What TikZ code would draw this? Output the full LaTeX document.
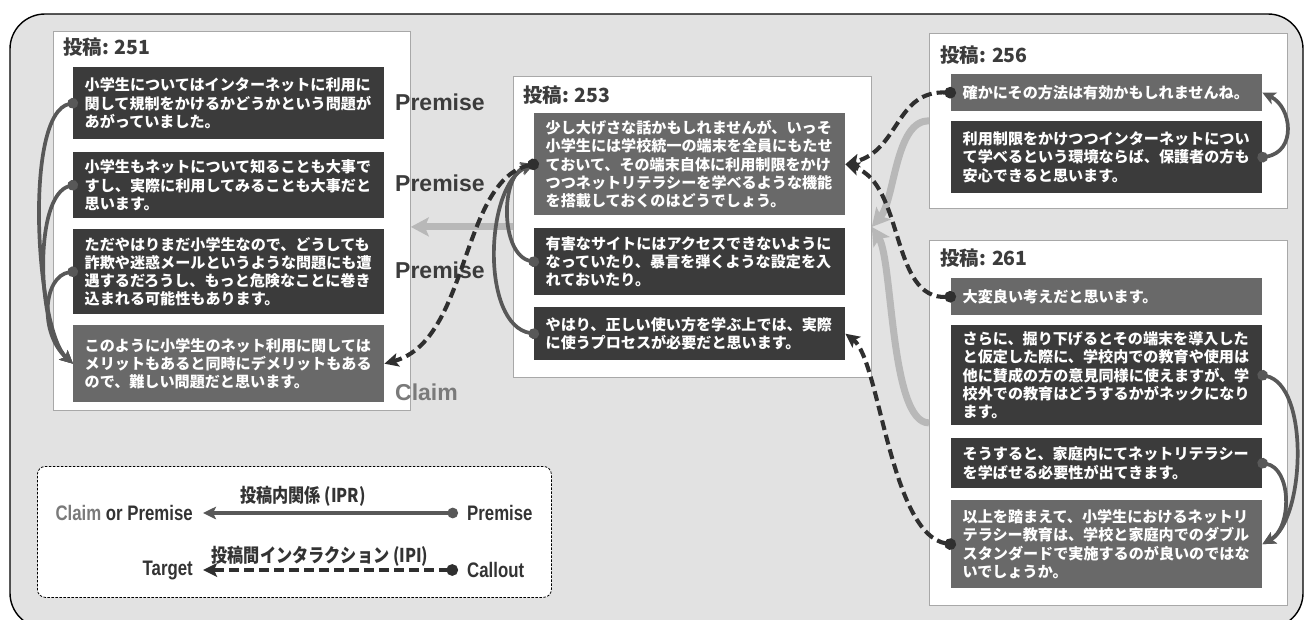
\documentclass[tikz,border=0pt]{standalone}
\usepackage{fontspec}
\usetikzlibrary{arrows.meta}
\setmainfont{Liberation Sans}
\newfontfamily\jp{Noto Sans CJK JP}
\newfontfamily\jpn[FakeStretch=0.85]{Noto Sans CJK JP}
\newfontfamily\lsn[FakeStretch=0.8]{Liberation Sans}
\definecolor{bgc}{HTML}{E2E2E2}
\definecolor{postborder}{HTML}{A8A8A8}
\definecolor{segdark}{HTML}{3B3B3B}
\definecolor{seglight}{HTML}{696969}
\definecolor{iprc}{HTML}{585858}
\definecolor{ipic}{HTML}{2F2F2F}
\definecolor{bigc}{HTML}{B8B8B8}
\definecolor{ttlc}{HTML}{3C3C3C}
\definecolor{claimc}{HTML}{7A7A7A}
\definecolor{lgc}{HTML}{333333}
\tikzset{
  post/.style={draw=postborder, fill=white, line width=0.8pt, anchor=north west, inner sep=0pt},
  seg/.style={fill=segdark, text=white, anchor=north west, text width=288pt, inner xsep=11.5pt, inner ysep=0pt, align=left, font=\jp\bfseries\fontsize{15.1}{18.3}\selectfont, minimum width=311pt},
  segc/.style={seg, fill=seglight},
  ttl/.style={anchor=west, text=ttlc, font=\jp\bfseries\fontsize{19.5}{21}\selectfont, inner sep=0pt},
  role/.style={anchor=west, text=ttlc, font=\bfseries\fontsize{23}{25}\selectfont, inner sep=0pt},
  ipr/.style={draw=iprc, line width=3.7pt, shorten <=-5pt, {Circle[length=10.5pt]}-{Stealth[length=13pt,width=12.5pt,inset=3pt]}},
  ipi/.style={draw=ipic, line width=4.1pt, dash pattern=on 10pt off 5pt, shorten <=-5pt, {Circle[length=11.5pt]}-{Stealth[length=14pt,width=13.5pt,inset=3pt]}},
  big/.style={draw=bigc, line width=7pt, -{Stealth[length=18pt,width=19pt,inset=4pt]}},
  lg/.style={text=lgc, font=\lsn\bfseries\fontsize{21}{23}\selectfont, inner sep=0pt},
  lgj/.style={text=lgc, font=\jpn\bfseries\fontsize{19}{21}\selectfont, inner sep=0pt},
}
\begin{document}
\begin{tikzpicture}[x=1pt,y=-1pt]
\useasboundingbox (0,0) rectangle (1304,619);
\clip (0,0) rectangle (1304,619);
\fill[white] (0,0) rectangle (1304,619);
\draw[fill=bgc, line width=1.4pt, rounded corners=35pt] (10,14) rectangle (1303,628);

% post boxes
\node[post, minimum width=357pt, minimum height=379pt] (p251) at (53,31) {};
\node[post, minimum width=358pt, minimum height=301pt] (p253) at (513,76) {};
\node[post, minimum width=358pt, minimum height=175pt] (p256) at (929,33) {};
\node[post, minimum width=358pt, minimum height=365pt] (p261) at (929,240) {};

% titles
\node[ttl] (t251) at (63,47) {投稿: 251};
\node[ttl] (t253) at (523,95) {投稿: 253};
\node[ttl] (t256) at (940,55) {投稿: 256};
\node[ttl] (t261) at (940,258) {投稿: 261};

% 251 segments
\node[seg, minimum height=72pt] (a1) at (73,67) {小学生についてはインターネットに利用に\\関して規制をかけるかどうかという問題が\\あがっていました。};
\node[seg, minimum height=66pt] (a2) at (73,152) {小学生もネットについて知ることも大事で\\すし、実際に利用してみることも大事だと\\思います。};
\node[seg, minimum height=85pt] (a3) at (73,229) {ただやはりまだ小学生なので、どうしても\\詐欺や迷惑メールというような問題にも遭\\遇するだろうし、もっと危険なことに巻き\\込まれる可能性もあります。};
\node[segc, minimum height=77pt] (a4) at (73,325) {このように小学生のネット利用に関しては\\メリットもあると同時にデメリットもある\\ので、難しい問題だと思います。};

% 253 segments
\node[segc, minimum height=102pt] (b1) at (534,113) {少し大げさな話かもしれませんが、いっそ\\小学生には学校統一の端末を全員にもたせ\\ておいて、その端末自体に利用制限をかけ\\つつネットリテラシーを学べるような機能\\を搭載しておくのはどうでしょう。};
\node[seg, minimum height=67pt] (b2) at (534,228) {有害なサイトにはアクセスできないように\\なっていたり、暴言を弾くような設定を入\\れておいたり。};
\node[seg, minimum height=53pt] (b3) at (534,307) {やはり、正しい使い方を学ぶ上では、実際\\に使うプロセスが必要だと思います。};

% 256 segments
\node[segc, minimum height=37pt] (c1) at (951,74) {確かにその方法は有効かもしれませんね。};
\node[seg, minimum height=72pt] (c2) at (951,121) {利用制限をかけつつインターネットについ\\て学べるという環境ならば、保護者の方も\\安心できると思います。};

% 261 segments
\node[segc, minimum height=37pt] (d1) at (951,278) {大変良い考えだと思います。};
\node[seg, minimum height=100pt] (d2) at (951,325) {さらに、掘り下げるとその端末を導入した\\と仮定した際に、学校内での教育や使用は\\他に賛成の方の意見同様に使えますが、学\\校外での教育はどうするかがネックになり\\ます。};
\node[seg, minimum height=50pt] (d3) at (951,438) {そうすると、家庭内にてネットリテラシー\\を学ばせる必要性が出てきます。};
\node[segc, minimum height=88pt] (d4) at (951,500) {以上を踏まえて、小学生におけるネットリ\\テラシー教育は、学校と家庭内でのダブル\\スタンダードで実施するのが良いのではな\\いでしょうか。};

% role labels
\node[role] (r1) at (395,102) {Premise};
\node[role] (r2) at (395,183) {Premise};
\node[role] (r3) at (395,270) {Premise};
\node[role, text=claimc] (r4) at (395,392) {Claim};

% big light gray arrows (post-level)
\draw[big] (p253.west) -- (p253.west -| p251.east);
\draw[big] (p256.west) .. controls (895,120) and (895,200) .. (p253.east);
\draw[big] (p261.west) .. controls (890,423) and (893,260) .. (p253.east);

% IPR within posts
\draw[ipr] (a1.west) .. controls (23,113) and (36,330) .. (a4.west);
\draw[ipr] (a2.west) .. controls (33,195) and (37,331) .. (a4.west);
\draw[ipr] (a3.west) .. controls (43,276) and (39,333) .. (a4.west);
\draw[ipr] (b2.west) .. controls (500,255) and (500,175) .. (b1.west);
\draw[ipr] (b3.west) .. controls (480,325) and (485,185) .. (b1.west);
\draw[ipr] (c2.east) .. controls (1297,152) and (1292,107) .. (c1.east);
\draw[ipr] (d2.east) .. controls (1310,385) and (1305,520) .. (d4.east);
\draw[ipr] (d3.east) .. controls (1292,468) and (1292,528) .. (d4.east);

% IPI between posts
\draw[ipi] (b1.west) .. controls (460,180) and (470,340) .. (a4.east);
\draw[ipi] (c1.west) .. controls (895,90) and (900,150) .. (b1.east);
\draw[ipi] (d1.west) .. controls (890,300) and (905,185) .. (b1.east);
\draw[ipi] (d4.west) .. controls (890,535) and (880,360) .. (b3.east);

% legend
\node[draw=black, fill=white, line width=0.8pt, dash pattern=on 2.5pt off 1.5pt, rounded corners=8pt, anchor=north west, minimum width=514pt, minimum height=131pt, inner sep=0pt] (leg) at (37,466) {};
\node[lg, anchor=east] (lcp) at (193,513) {\textcolor{claimc}{Claim} or Premise};
\node[lg, anchor=west] (lpr) at (467,513) {Premise};
\node[lg, anchor=east] (ltg) at (193,570) {Target};
\node[lg, anchor=west] (lco) at (467,570) {Callout};
\coordinate (l1a) at (453,513);
\coordinate (l1b) at (203,513);
\coordinate (l2a) at (453,570);
\coordinate (l2b) at (203,570);
\draw[ipr] (l1a) -- (l1b);
\draw[ipi] (l2a) -- (l2b);
\node[lgj] (lipr) at (303,496) {投稿内関係 (IPR)};
\node[lgj] (lipi) at (320,556) {投稿間インタラクション (IPI)};
\end{tikzpicture}
\end{document}
